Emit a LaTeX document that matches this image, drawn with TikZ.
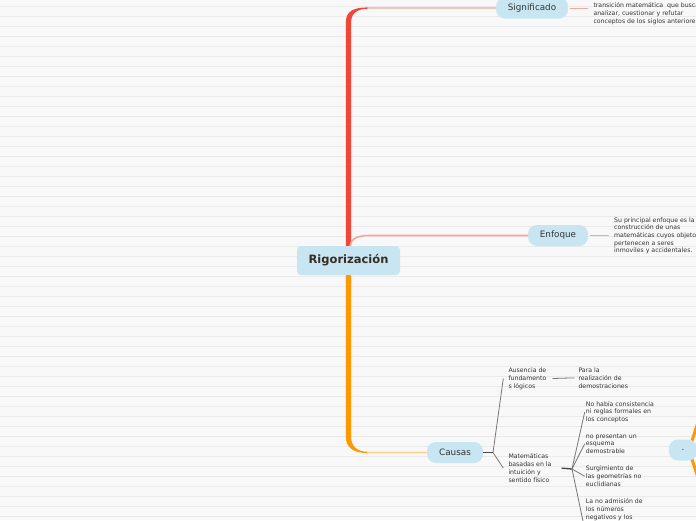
\documentclass[tikz,border=0pt]{standalone}
\usepackage{fontspec}
\setmainfont{DejaVu Sans}
\usetikzlibrary{calc}
\definecolor{PageBg}{HTML}{F8F8F8}
\definecolor{RuleLine}{HTML}{EAEAEA}
\definecolor{TopicFill}{HTML}{C7E6F1}
\definecolor{RootInk}{HTML}{3A2B25}
\definecolor{NoteInk}{HTML}{333333}
\definecolor{BranchRed}{HTML}{EF4637}
\definecolor{BranchRedLight}{HTML}{F6A79C}
\definecolor{BranchOrange}{HTML}{FF9800}
\definecolor{BranchOrangeLight}{HTML}{FFCC88}
\definecolor{TwigDark}{HTML}{444444}
\definecolor{TwigGray}{HTML}{777777}
\pgfdeclarelayer{paper}
\pgfdeclarelayer{links}
\pgfsetlayers{paper,links,main}
\tikzset{
  mm root/.style={
    fill=TopicFill,
    rounded corners=4pt,
    text=RootInk,
    font=\fontsize{11.5}{13}\selectfont\bfseries,
    minimum width=103pt,
    minimum height=29pt,
    inner sep=0pt
  },
  mm topic/.style={
    fill=TopicFill,
    rounded corners=9pt,
    text=NoteInk,
    font=\fontsize{8.8}{10}\selectfont,
    minimum height=21pt,
    inner sep=0pt
  },
  mm note/.style={
    anchor=base west,
    align=left,
    text=NoteInk,
    font=\fontsize{6.2}{7.9}\selectfont,
    inner sep=0pt
  },
  mm red link/.style={draw=BranchRedLight, line width=1.2pt},
  mm orange link/.style={draw=BranchOrangeLight, line width=1.2pt},
  mm orange twig/.style={draw=BranchOrange, line width=3pt},
  mm fork/.style={draw=TwigDark, line width=1.3pt},
  mm twig/.style={draw=TwigGray, line width=0.8pt}
}

\begin{document}
\begin{tikzpicture}[x=1pt, y=-1pt]
        \useasboundingbox (0,0) rectangle (696,520);
        \clip (0,0) rectangle (696,520);
        \begin{pgfonlayer}{paper}
          \fill[PageBg] (0,0) rectangle (696,520);
          \foreach \k in {0,...,51}
            \draw[RuleLine, line width=0.9pt] (0,6+10*\k) -- (696,6+10*\k);
        \end{pgfonlayer}

        % topics
        \node[mm root] (root) at (348.5,260.5) {Rigorización};
        \node[mm topic, minimum width=72pt] (sig) at (532,8) {Significado};
        \node[mm topic, minimum width=60pt] (enf) at (558,235.5) {Enfoque};
        \node[mm topic, minimum width=56pt] (causas) at (455,452.5) {Causas};
        \node[mm topic, minimum width=28pt] (dot) at (683,450) {.};

        % notes (anchored on the baseline of their last line)
        \node[mm note] (sigtxt) at (593.3,23.3) {transición matemática\ \ que busca\\analizar, cuestionar y refutar\\conceptos de los siglos anteriores};
        \node[mm note, font=\fontsize{6.2}{7.7}\selectfont] (enftxt) at (614,252.8) {Su principal enfoque es la\\construcción de unas\\matemáticas cuyos objetos\\pertenecen a seres\\inmoviles y accidentales.};
        \node[mm note] (ausencia) at (508.3,388.1) {Ausencia de\\fundamento\\s lógicos};
        \node[mm note] (para) at (578.3,388.1) {Para la\\realización de\\demostraciones};
        \node[mm note] (matem) at (508.3,482.4) {Matemáticas\\basadas en la\\intuición y\\sentido físico};
        \node[mm note] (nohabia) at (585.7,421.8) {No había consistencia\\ni reglas formales en\\los conceptos};
        \node[mm note] (noesquema) at (585.7,453.8) {no presentan un\\esquema\\demostrable};
        \node[mm note] (geom) at (585.7,486.5) {Surgimiento de\\las geometrías no\\euclidianas};
        \node[mm note] (negativos) at (585.7,519.1) {La no admisión de\\los números\\negativos y los};

        \coordinate (cfork) at (493,452.5);
        \coordinate (mfork) at (572,469);
        \coordinate (dotjoin) at ($(dot.center)+(6,0)$);
        \coordinate (dotup) at (700,416);
        \coordinate (dotdown) at (700,484);

        \begin{pgfonlayer}{links}
          % main branches, thick to thin
          \fill[BranchRed] ($(root.north)+(-2.6,0)$) -- (345.9,22) .. controls (345.9,11) and (354,7.4) .. (368,7.4)
            -- (368,8.7) .. controls (358,8.7) and (351.1,13) .. (351.1,22) -- ($(root.north)+(2.6,0)$) -- cycle;
          \draw[mm red link] (367,8.05) -- (sig.west);
          \draw[mm red link, line width=1.6pt] ($(root.north)+(1.5,0)$) .. controls (351,239) and (357,235.5) .. (369,235.5) -- (enf.west);
          \fill[BranchOrange] ($(root.south)+(-2.6,0)$) -- (345.9,437) .. controls (345.9,448) and (354,453.1) .. (368,453.1)
            -- (368,451.8) .. controls (358,451.8) and (351.1,447) .. (351.1,437) -- ($(root.south)+(2.6,0)$) -- cycle;
          \draw[mm orange link] (367,452.45) -- (causas.west);
          \draw[mm orange twig] (dotjoin) -- (dotup);
          \draw[mm orange twig] (dotjoin) -- (dotdown);
        \end{pgfonlayer}

        % note links
        \draw[mm red link, line width=1pt] ([xshift=2pt]sig.east) -- ($(sig.east -| sigtxt.west)+(-5,0)$);
        \draw[mm red link, line width=1pt] ([xshift=2pt]enf.east) -- ($(enf.east -| enftxt.west)+(-5,0)$);
        \draw[mm fork] (causas.east) -- (cfork);
        \draw[mm twig] (cfork) -- ([xshift=-5pt]ausencia.west);
        \draw[mm twig] (cfork) -- ([xshift=-5pt]matem.west);
        \draw[mm twig] ([xshift=6pt]ausencia.east) -- ([xshift=-4pt]para.west);
        \draw[mm fork] ([xshift=10pt]matem.east) -- (mfork);
        \draw[mm twig] (mfork) -- ([xshift=-1pt]nohabia.west);
        \draw[mm twig] (mfork) -- ([xshift=-1pt]noesquema.west);
        \draw[mm twig] (mfork) -- ([xshift=-1pt]geom.west);
        \draw[mm twig] (mfork) -- ($(negativos.west)+(-2,15)$);
      \end{tikzpicture}
\end{document}
